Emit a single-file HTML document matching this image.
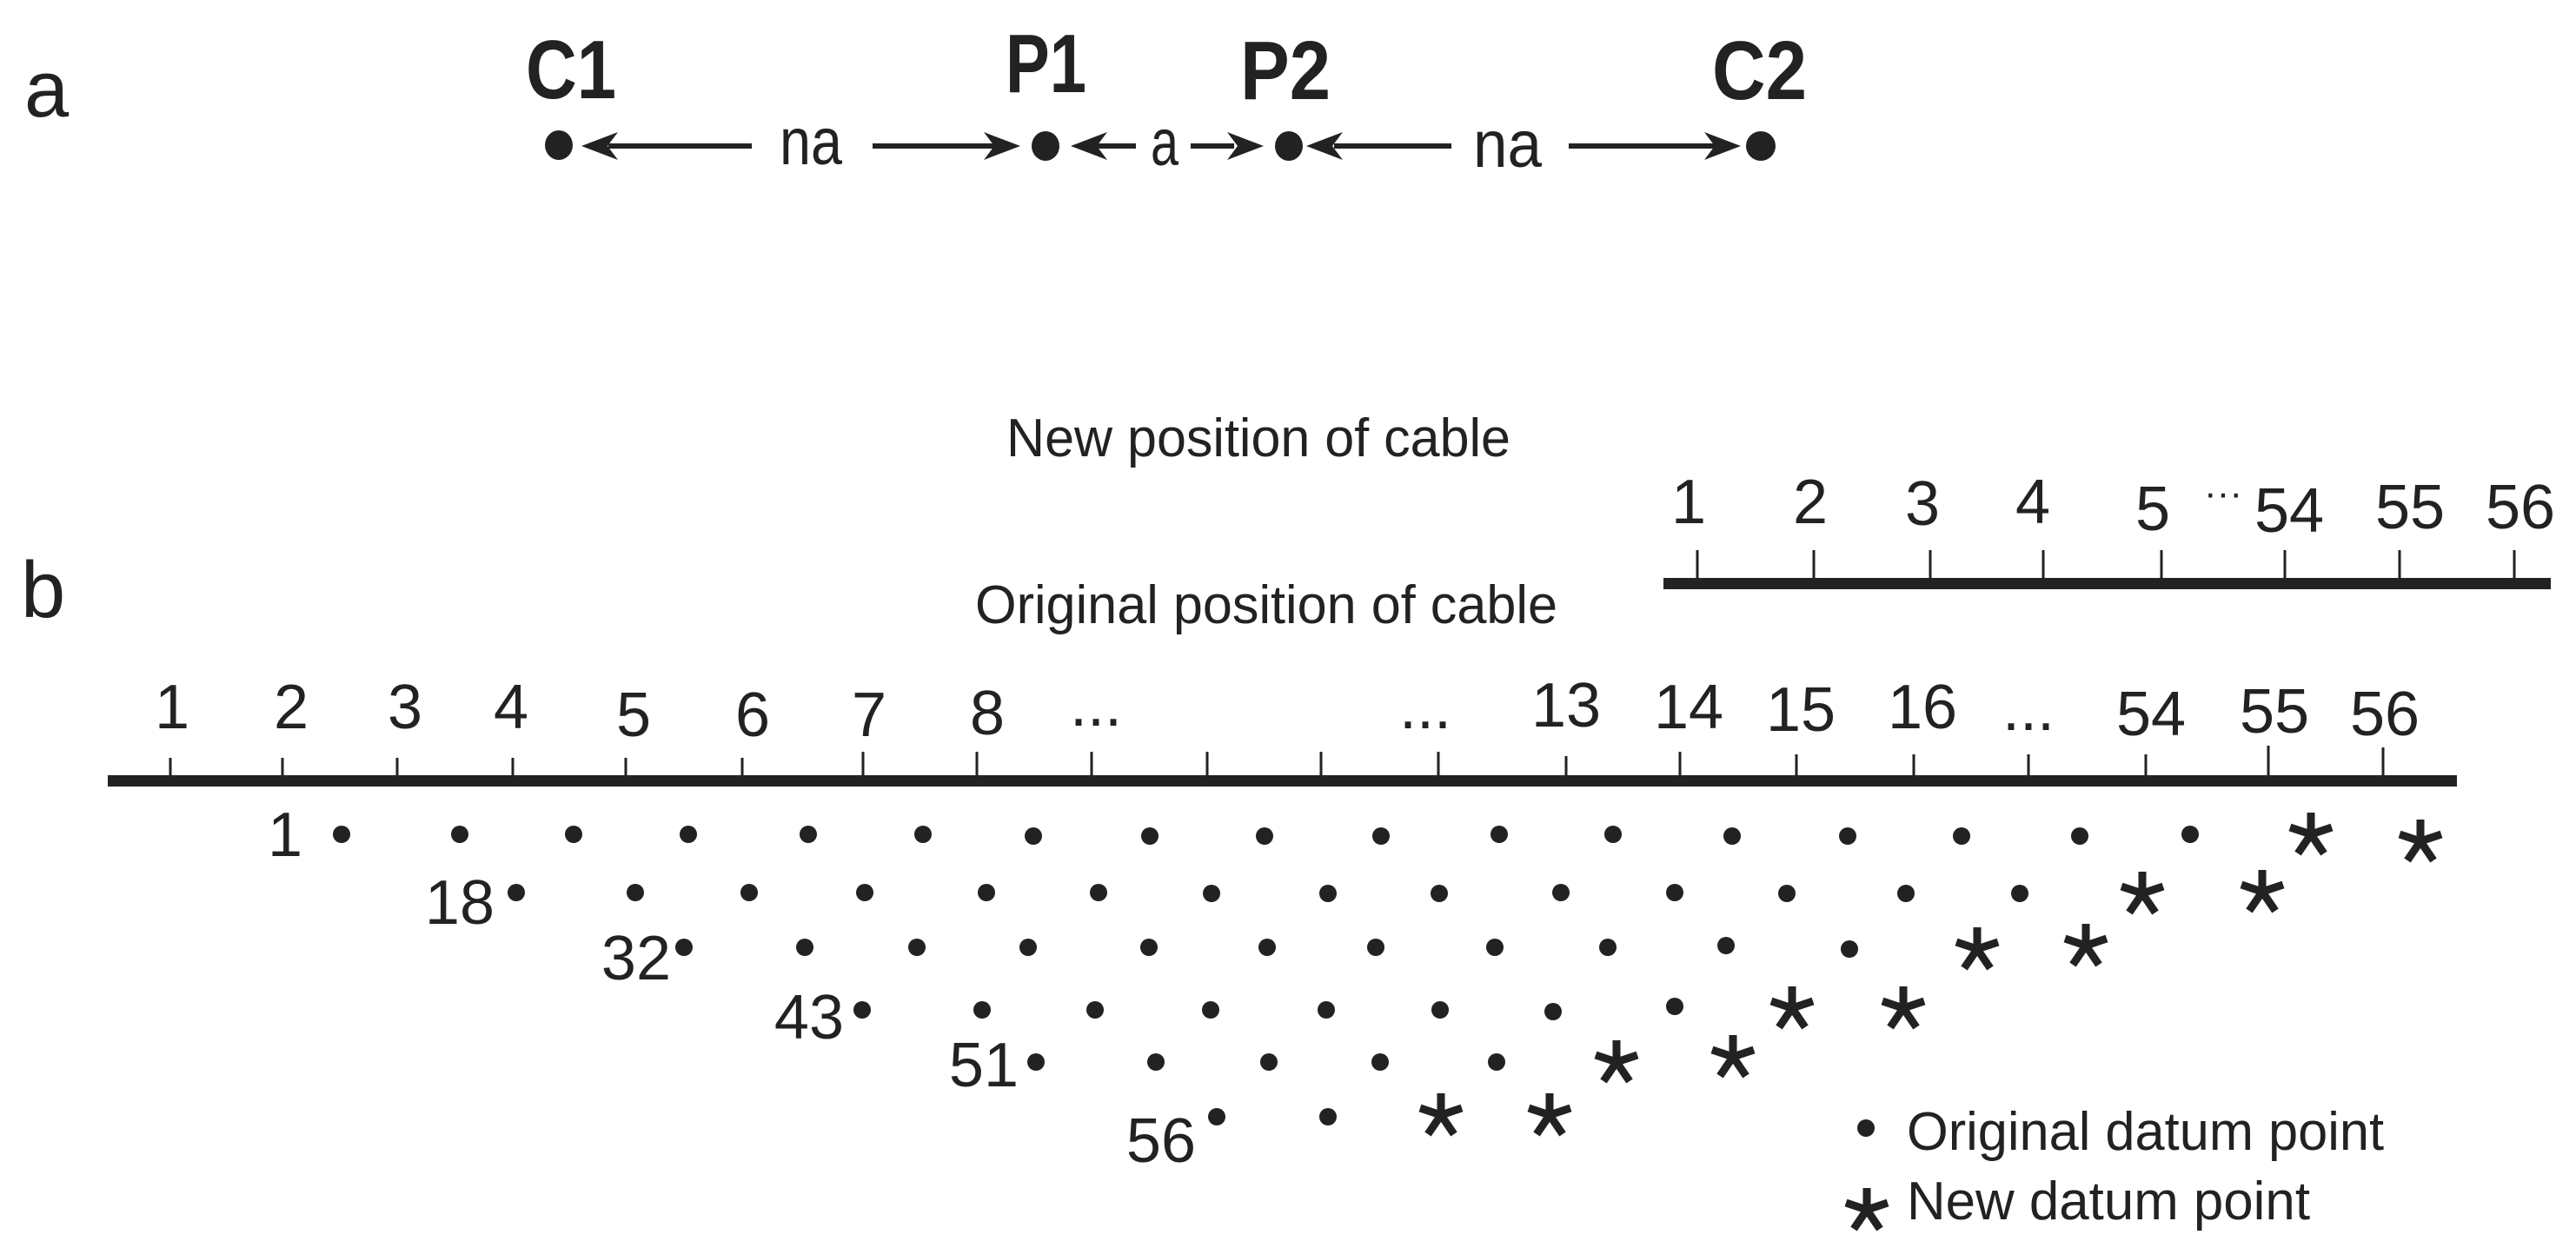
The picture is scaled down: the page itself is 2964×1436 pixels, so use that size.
<!DOCTYPE html>
<html><head><meta charset="utf-8"><style>
html,body{margin:0;padding:0;background:#fff;}
svg{display:block;}
text{font-family:"Liberation Sans",Arial,sans-serif;fill:#222;}
</style></head><body>
<svg width="2964" height="1436" viewBox="0 0 2964 1436" xmlns="http://www.w3.org/2000/svg">
<defs>
<path id="ahR" d="M0,0 L-42,-16 L-30,0 L-42,16 Z" fill="#222"/>
<path id="ahL" d="M0,0 L42,-16 L30,0 L42,16 Z" fill="#222"/>
<g id="st" stroke="#222" stroke-width="9" stroke-linecap="butt">
<line x1="0" y1="0" x2="0" y2="-25"/>
<line x1="0" y1="0" x2="24" y2="-8"/>
<line x1="0" y1="0" x2="-24" y2="-8"/>
<line x1="0" y1="0" x2="15" y2="22"/>
<line x1="0" y1="0" x2="-15" y2="22"/>
</g>
</defs>

<!-- part a -->
<text x="28" y="134" font-size="92">a</text>
<g font-weight="bold" font-size="96">
<text x="605" y="113" textLength="104" lengthAdjust="spacingAndGlyphs">C1</text>
<text x="1157" y="106" textLength="93" lengthAdjust="spacingAndGlyphs">P1</text>
<text x="1427" y="114" textLength="104" lengthAdjust="spacingAndGlyphs">P2</text>
<text x="1970" y="114" textLength="109" lengthAdjust="spacingAndGlyphs">C2</text>
</g>
<g fill="#222">
<ellipse cx="643" cy="167" rx="16" ry="17"/>
<ellipse cx="1203" cy="168" rx="16" ry="17"/>
<ellipse cx="1483" cy="168" rx="16" ry="17"/>
<ellipse cx="2026" cy="168" rx="17" ry="17"/>
</g>
<g stroke="#222" stroke-width="6">
<line x1="700" y1="168" x2="865" y2="168"/>
<line x1="1004" y1="168" x2="1150" y2="168"/>
<line x1="1260" y1="168" x2="1307" y2="168"/>
<line x1="1370" y1="168" x2="1420" y2="168"/>
<line x1="1535" y1="168" x2="1670" y2="168"/>
<line x1="1805" y1="168" x2="1975" y2="168"/>
</g>
<use href="#ahL" x="669" y="168"/>
<use href="#ahR" x="1174" y="168"/>
<use href="#ahL" x="1232" y="168"/>
<use href="#ahR" x="1454" y="168"/>
<use href="#ahL" x="1503" y="168"/>
<use href="#ahR" x="2003" y="168"/>
<text x="897" y="189" font-size="76" textLength="72" lengthAdjust="spacingAndGlyphs">na</text>
<text x="1324" y="190" font-size="76" textLength="32" lengthAdjust="spacingAndGlyphs">a</text>
<text x="1695" y="192" font-size="76" textLength="79" lengthAdjust="spacingAndGlyphs">na</text>

<!-- part b -->
<text x="24" y="710" font-size="92">b</text>
<text x="1158" y="525" font-size="62" textLength="580" lengthAdjust="spacingAndGlyphs">New position of cable</text>
<text x="1122" y="717" font-size="62" textLength="670" lengthAdjust="spacingAndGlyphs">Original position of cable</text>

<!-- upper cable -->
<rect x="1914" y="665" width="1021" height="13" fill="#222"/>
<g stroke="#222" stroke-width="3">
<line x1="1953" y1="633" x2="1953" y2="668"/>
<line x1="2087" y1="633" x2="2087" y2="668"/>
<line x1="2221" y1="633" x2="2221" y2="668"/>
<line x1="2351" y1="633" x2="2351" y2="668"/>
<line x1="2487" y1="633" x2="2487" y2="668"/>
<line x1="2629" y1="633" x2="2629" y2="668"/>
<line x1="2761" y1="633" x2="2761" y2="668"/>
<line x1="2893" y1="633" x2="2893" y2="668"/>
</g>
<g font-size="72" text-anchor="middle">
<text x="1943" y="602">1</text>
<text x="2083" y="602">2</text>
<text x="2212" y="604">3</text>
<text x="2339" y="602">4</text>
<text x="2477" y="610">5</text>
<text x="2558" y="582" font-size="44">···</text>
<text x="2634" y="612">54</text>
<text x="2773" y="608">55</text>
<text x="2900" y="608">56</text>
</g>

<!-- original cable -->
<rect x="124" y="892" width="2703" height="13" fill="#222"/>
<g stroke="#222" stroke-width="3">
<line x1="196" y1="872" x2="196" y2="895"/>
<line x1="325" y1="872" x2="325" y2="895"/>
<line x1="457" y1="872" x2="457" y2="895"/>
<line x1="590" y1="872" x2="590" y2="895"/>
<line x1="720" y1="872" x2="720" y2="895"/>
<line x1="854" y1="872" x2="854" y2="895"/>
<line x1="993" y1="865" x2="993" y2="895"/>
<line x1="1124" y1="865" x2="1124" y2="895"/>
<line x1="1256" y1="865" x2="1256" y2="895"/>
<line x1="1389" y1="865" x2="1389" y2="895"/>
<line x1="1520" y1="865" x2="1520" y2="895"/>
<line x1="1655" y1="865" x2="1655" y2="895"/>
<line x1="1802" y1="870" x2="1802" y2="895"/>
<line x1="1933" y1="865" x2="1933" y2="895"/>
<line x1="2067" y1="868" x2="2067" y2="895"/>
<line x1="2202" y1="868" x2="2202" y2="895"/>
<line x1="2334" y1="868" x2="2334" y2="895"/>
<line x1="2469" y1="868" x2="2469" y2="895"/>
<line x1="2610" y1="858" x2="2610" y2="895"/>
<line x1="2742" y1="860" x2="2742" y2="895"/>
</g>
<g font-size="72" text-anchor="middle">
<text x="198" y="838">1</text>
<text x="335" y="838">2</text>
<text x="466" y="838">3</text>
<text x="588" y="838">4</text>
<text x="729" y="847">5</text>
<text x="866" y="847">6</text>
<text x="1000" y="847">7</text>
<text x="1136" y="845">8</text>
<text x="1261" y="835">...</text>
<text x="1640" y="838">...</text>
<text x="1802" y="836">13</text>
<text x="1943" y="838">14</text>
<text x="2072" y="841">15</text>
<text x="2212" y="838">16</text>
<text x="2334" y="840">...</text>
<text x="2475" y="846">54</text>
<text x="2617" y="843">55</text>
<text x="2744" y="846">56</text>
</g>

<!-- datum points -->
<g fill="#222">
<!-- row1 y 960 -->
<circle cx="393" cy="960" r="10"/><circle cx="529" cy="960" r="10"/><circle cx="660" cy="960" r="10"/><circle cx="792" cy="960" r="10"/><circle cx="930" cy="960" r="10"/><circle cx="1062" cy="960" r="10"/><circle cx="1189" cy="962" r="10"/><circle cx="1323" cy="962" r="10"/><circle cx="1455" cy="962" r="10"/><circle cx="1589" cy="962" r="10"/><circle cx="1725" cy="960" r="10"/><circle cx="1856" cy="960" r="10"/><circle cx="1993" cy="962" r="10"/><circle cx="2126" cy="962" r="10"/><circle cx="2257" cy="962" r="10"/><circle cx="2393" cy="962" r="10"/><circle cx="2520" cy="960" r="10"/>
<!-- row2 y 1027 -->
<circle cx="594" cy="1027" r="10"/><circle cx="731" cy="1027" r="10"/><circle cx="862" cy="1027" r="10"/><circle cx="995" cy="1027" r="10"/><circle cx="1135" cy="1027" r="10"/><circle cx="1264" cy="1027" r="10"/><circle cx="1394" cy="1028" r="10"/><circle cx="1528" cy="1028" r="10"/><circle cx="1656" cy="1028" r="10"/><circle cx="1796" cy="1027" r="10"/><circle cx="1927" cy="1027" r="10"/><circle cx="2056" cy="1028" r="10"/><circle cx="2193" cy="1028" r="10"/><circle cx="2324" cy="1028" r="10"/>
<!-- row3 y 1090 -->
<circle cx="787" cy="1090" r="10"/><circle cx="926" cy="1090" r="10"/><circle cx="1055" cy="1090" r="10"/><circle cx="1183" cy="1090" r="10"/><circle cx="1322" cy="1090" r="10"/><circle cx="1458" cy="1090" r="10"/><circle cx="1583" cy="1090" r="10"/><circle cx="1720" cy="1090" r="10"/><circle cx="1850" cy="1090" r="10"/><circle cx="1986" cy="1088" r="10"/><circle cx="2128" cy="1092" r="10"/>
<!-- row4 y 1162 -->
<circle cx="992" cy="1162" r="10"/><circle cx="1130" cy="1162" r="10"/><circle cx="1260" cy="1162" r="10"/><circle cx="1393" cy="1162" r="10"/><circle cx="1526" cy="1162" r="10"/><circle cx="1657" cy="1162" r="10"/><circle cx="1787" cy="1164" r="10"/><circle cx="1927" cy="1158" r="10"/>
<!-- row5 y 1222 -->
<circle cx="1192" cy="1222" r="10"/><circle cx="1330" cy="1222" r="10"/><circle cx="1460" cy="1222" r="10"/><circle cx="1588" cy="1222" r="10"/><circle cx="1722" cy="1222" r="10"/>
<!-- row6 y 1283 -->
<circle cx="1400" cy="1285" r="10"/><circle cx="1528" cy="1285" r="10"/>
<!-- legend -->
<circle cx="2147" cy="1298" r="10"/>
</g>
<!-- stars -->
<use href="#st" x="2659" y="960"/><use href="#st" x="2785" y="968"/>
<use href="#st" x="2465" y="1028"/><use href="#st" x="2603" y="1026"/>
<use href="#st" x="2275" y="1092"/><use href="#st" x="2400" y="1088"/>
<use href="#st" x="2062" y="1160"/><use href="#st" x="2190" y="1160"/>
<use href="#st" x="1860" y="1222"/><use href="#st" x="1994" y="1216"/>
<use href="#st" x="1658" y="1283"/><use href="#st" x="1783" y="1283"/>
<use href="#st" x="2148" y="1392"/>

<!-- row labels -->
<g font-size="72" text-anchor="end">
<text x="348" y="985">1</text>
<text x="569" y="1063">18</text>
<text x="772" y="1127">32</text>
<text x="971" y="1195">43</text>
<text x="1172" y="1250">51</text>
<text x="1376" y="1337">56</text>
</g>
<text x="2194" y="1323" font-size="62" textLength="549" lengthAdjust="spacingAndGlyphs">Original datum point</text>
<text x="2194" y="1403" font-size="62" textLength="464" lengthAdjust="spacingAndGlyphs">New datum point</text>
</svg>
</body></html>
